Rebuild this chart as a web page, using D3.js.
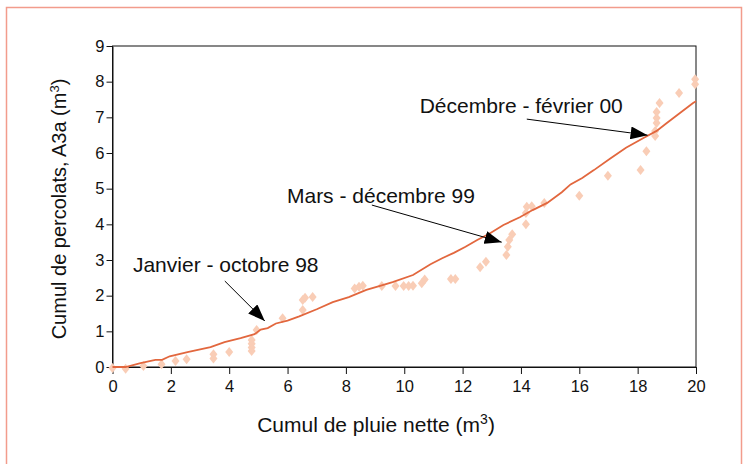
<!DOCTYPE html>
<html>
<head>
<meta charset="utf-8">
<script src="https://cdn.jsdelivr.net/npm/d3@7"></script>
<style>
  body { margin: 0; background: #fff; }
  text { font-family: "Liberation Sans", Arial, sans-serif; }
</style>
</head>
<body>
<div id="chart"></div>
<script>
// cumulative curve (pluie nette vs percolats)
const lineX = [0, 0.45, 0.96, 1.47, 1.7, 1.96, 2.57, 3.36, 3.84, 4.39, 4.87, 5.08, 5.32, 5.6, 6.0, 6.4, 7.0, 7.55, 8.1, 8.7, 9.2, 9.6, 10.3, 10.9, 11.3, 11.7, 12.1, 12.5, 12.9, 13.4, 13.96, 14.4, 14.9, 15.4, 15.7, 16.1, 16.5, 17.05, 17.6, 18.2, 18.65, 19.0, 19.45, 19.9, 20.0];
const lineY = [0, 0.0, 0.11, 0.2, 0.2, 0.3, 0.42, 0.56, 0.70, 0.81, 0.92, 1.05, 1.09, 1.22, 1.30, 1.42, 1.62, 1.82, 1.96, 2.16, 2.28, 2.38, 2.58, 2.88, 3.05, 3.2, 3.37, 3.56, 3.73, 3.98, 4.2, 4.4, 4.6, 4.9, 5.12, 5.3, 5.52, 5.84, 6.15, 6.42, 6.62, 6.84, 7.12, 7.4, 7.45];

// measured points
const ptX = [0, 0.45, 1.06, 1.68, 2.16, 2.54, 3.46, 3.46, 4.0, 4.77, 4.77, 4.77, 4.77, 4.94, 5.83, 6.52, 6.52, 6.6, 6.86, 8.3, 8.45, 8.58, 9.23, 9.7, 9.98, 10.15, 10.3, 10.6, 10.7, 11.6, 11.75, 12.6, 12.8, 13.5, 13.55, 13.6, 13.7, 14.17, 14.17, 14.2, 14.37, 14.8, 16.0, 16.98, 18.1, 18.3, 18.6, 18.6, 18.65, 18.65, 18.65, 18.75, 19.42, 19.97, 19.97];
const ptY = [-0.03, -0.05, 0.03, 0.08, 0.17, 0.22, 0.36, 0.24, 0.42, 0.45, 0.55, 0.65, 0.76, 1.04, 1.37, 1.6, 1.88, 1.94, 1.96, 2.2, 2.25, 2.28, 2.27, 2.27, 2.27, 2.27, 2.28, 2.35, 2.45, 2.47, 2.47, 2.8, 2.95, 3.14, 3.37, 3.56, 3.72, 4.0, 4.32, 4.49, 4.51, 4.6, 4.8, 5.36, 5.52, 6.05, 6.48, 6.62, 6.84, 6.98, 7.15, 7.4, 7.68, 7.93, 8.07];

const xTicks = [0, 2, 4, 6, 8, 10, 12, 14, 16, 18, 20];
const yTicks = [0, 1, 2, 3, 4, 5, 6, 7, 8, 9];

// annotations: label, text anchor, arrow start, arrow tip (data units)
const noteLabels = ["Janvier - octobre 98", "Mars - décembre 99", "Décembre - février 00"];
const noteText = [[0.70, 2.66], [5.98, 4.60], [10.53, 7.12]];
const noteFrom = [[3.85, 2.41], [8.89, 4.54], [14.2, 6.95]];
const noteTo = [[5.22, 1.29], [13.34, 3.50], [18.34, 6.50]];

const W = 743, H = 464;
const margin = { top: 46, right: 47, bottom: 97, left: 112.5 };
const width = W - margin.left - margin.right,
      height = H - margin.top - margin.bottom;

const svg = d3.select("#chart").append("svg")
    .attr("width", W)
    .attr("height", H);

// outer salmon frame (open at the bottom)
svg.append("path")
    .attr("d", `M6.5,${H}V7.5H741.5V${H}`)
    .attr("fill", "none")
    .attr("stroke", "#f29c8c")
    .attr("stroke-width", 1.5);

const g = svg.append("g")
    .attr("transform", `translate(${margin.left},${margin.top})`);

const x = d3.scaleLinear().domain([0, 20]).range([0, width]);
const y = d3.scaleLinear().domain([0, 9]).range([height, 0]);

// plot box
g.append("rect")
    .attr("width", width)
    .attr("height", height)
    .attr("fill", "none")
    .attr("stroke", "#111")
    .attr("stroke-width", 1);

const xAxis = g.append("g")
    .attr("transform", `translate(0,${height})`)
    .call(d3.axisBottom(x).tickValues(xTicks).tickSize(7).tickSizeOuter(0).tickPadding(6));

const yAxis = g.append("g")
    .call(d3.axisLeft(y).tickValues(yTicks).tickSize(6).tickSizeOuter(0).tickPadding(2));

[xAxis, yAxis].forEach(a => {
    a.selectAll("text").style("font-size", "16.5px").attr("fill", "#111")
        .style("font-family", "'Liberation Sans', Arial, sans-serif");
    a.selectAll("line, path").attr("stroke", "#111");
});

// points
const diamond = "M0,-5L4,0L0,5L-4,0Z";
g.selectAll(".pt")
    .data(ptX.map((v, i) => [v, ptY[i]]))
    .enter().append("path")
    .attr("class", "pt")
    .attr("d", diamond)
    .attr("transform", d => `translate(${x(d[0])},${y(d[1])})`)
    .attr("fill", "#f9cdb6");

// curve
g.append("path")
    .datum(lineX.map((v, i) => [v, lineY[i]]))
    .attr("fill", "none")
    .attr("stroke", "#e2673e")
    .attr("stroke-width", 1.8)
    .attr("d", d3.line().x(d => x(d[0])).y(d => y(d[1])));

// arrow head
svg.append("defs").append("marker")
    .attr("id", "head")
    .attr("viewBox", "0 -6.5 17 13")
    .attr("refX", 17)
    .attr("refY", 0)
    .attr("markerUnits", "userSpaceOnUse")
    .attr("markerWidth", 17)
    .attr("markerHeight", 13)
    .attr("orient", "auto")
    .append("path")
    .attr("d", "M0,-6.5L17,0L0,6.5Z")
    .attr("fill", "#000");

noteLabels.forEach((lab, i) => {
    g.append("line")
        .attr("x1", x(noteFrom[i][0])).attr("y1", y(noteFrom[i][1]))
        .attr("x2", x(noteTo[i][0])).attr("y2", y(noteTo[i][1]))
        .attr("stroke", "#000")
        .attr("stroke-width", 1)
        .attr("marker-end", "url(#head)");
    g.append("text")
        .attr("x", x(noteText[i][0]))
        .attr("y", y(noteText[i][1]))
        .style("font-size", "21px")
        .attr("fill", "#111")
        .text(lab);
});

// axis titles
const xt = svg.append("text")
    .attr("x", 376)
    .attr("y", 432)
    .attr("text-anchor", "middle")
    .style("font-size", "21px")
    .attr("fill", "#111");
xt.append("tspan").text("Cumul de pluie nette (m");
xt.append("tspan").attr("dy", -8).style("font-size", "14px").text("3");
xt.append("tspan").attr("dy", 8).text(")");

const yt = svg.append("text")
    .attr("transform", "translate(66,209) rotate(-90)")
    .attr("text-anchor", "middle")
    .style("font-size", "20px")
    .attr("fill", "#111");
yt.append("tspan").text("Cumul de percolats, A3a (m");
yt.append("tspan").attr("dy", -7).style("font-size", "13px").text("3");
yt.append("tspan").attr("dy", 7).text(")");
</script>
</body>
</html>
